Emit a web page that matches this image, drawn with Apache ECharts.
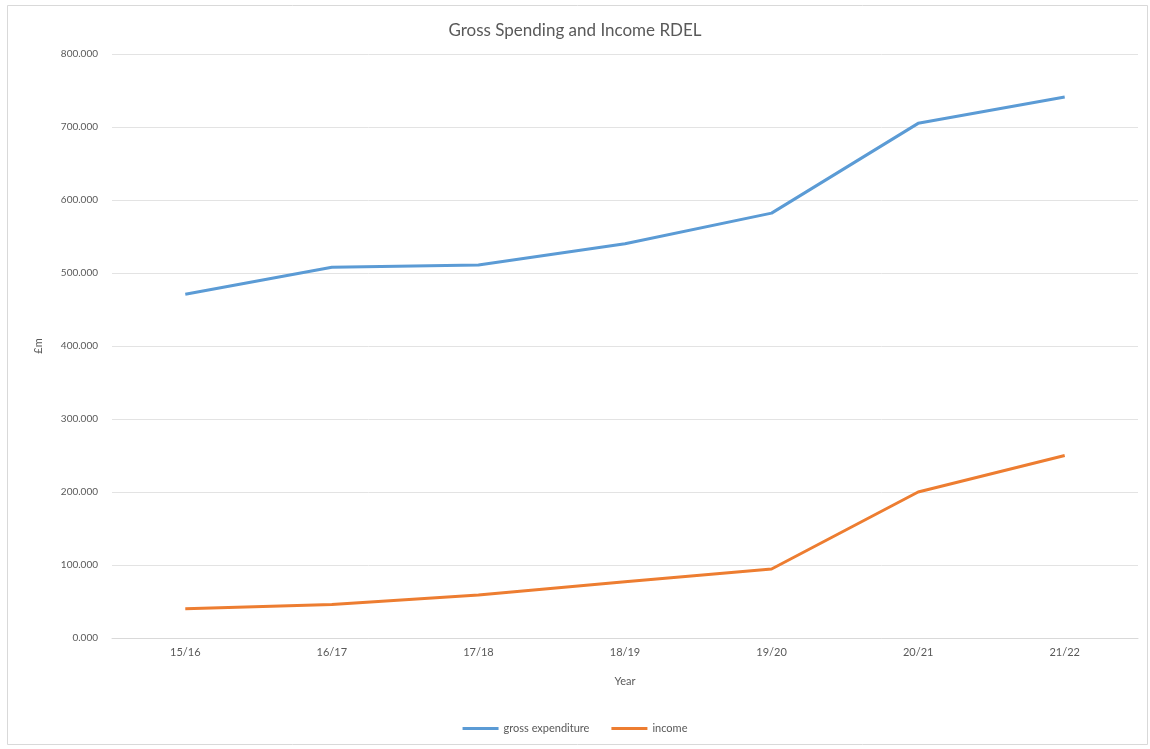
<!DOCTYPE html>
<html>
<head>
<meta charset="utf-8">
<script src="https://cdn.jsdelivr.net/npm/echarts@6/dist/echarts.min.js"></script>
<style>
  html, body { margin: 0; padding: 0; background: #ffffff; }
  #chart { width: 1150px; height: 749px; }
</style>
</head>
<body>
<div id="chart"></div>
<script>
// Financial years on the category axis
const years = ['15/16', '16/17', '17/18', '18/19', '19/20', '20/21', '21/22'];
// £m per year
const grossExpenditure = [471, 508, 511, 540, 582, 705, 741];
const income = [40, 46, 59, 77, 94.5, 200, 250];

const textGrey = '#595959';
const fontFam = 'Lato, "Open Sans", sans-serif';

const chart = echarts.init(document.getElementById('chart'), null, { renderer: 'canvas' });

chart.setOption({
  backgroundColor: '#ffffff',
  animation: false,
  graphic: [{
    type: 'rect',
    shape: { x: 7.5, y: 5.5, width: 1140, height: 739 },
    style: { fill: 'none', stroke: '#d9d9d9', lineWidth: 1 },
    silent: true,
    z: -1
  }],
  title: {
    text: 'Gross Spending and Income RDEL',
    left: 'center',
    top: 17,
    textStyle: { color: textGrey, fontSize: 17, fontWeight: 'normal', fontFamily: fontFam }
  },
  legend: {
    bottom: 10,
    left: 'center',
    itemWidth: 36,
    itemHeight: 3,
    itemGap: 22,
    icon: 'rect',
    textStyle: { color: textGrey, fontSize: 11, fontFamily: fontFam },
    data: ['gross expenditure', 'income']
  },
  grid: { left: 112, right: 12, top: 54, bottom: 111, containLabel: false },
  xAxis: {
    type: 'category',
    data: years,
    boundaryGap: true,
    name: 'Year',
    nameLocation: 'middle',
    nameGap: 38,
    nameTextStyle: { color: textGrey, fontSize: 11, fontFamily: fontFam },
    axisLine: { show: true, lineStyle: { color: '#d9d9d9', width: 1 } },
    axisTick: { show: false },
    axisLabel: { color: textGrey, fontSize: 11, margin: 9, fontFamily: fontFam }
  },
  yAxis: {
    type: 'value',
    min: 0,
    max: 800,
    interval: 100,
    name: '£m',
    nameLocation: 'middle',
    nameGap: 68,
    nameRotate: 90,
    nameTextStyle: { color: textGrey, fontSize: 11, fontFamily: fontFam },
    axisLine: { show: false },
    axisTick: { show: false },
    splitLine: { lineStyle: { color: '#e3e3e3', width: 1 } },
    axisLabel: {
      color: textGrey, fontSize: 10, margin: 14, fontFamily: fontFam,
      formatter: v => v.toFixed(3)
    }
  },
  series: [
    {
      name: 'gross expenditure',
      type: 'line',
      data: grossExpenditure,
      symbol: 'none',
      lineStyle: { color: '#5b9bd5', width: 3 },
      itemStyle: { color: '#5b9bd5' }
    },
    {
      name: 'income',
      type: 'line',
      data: income,
      symbol: 'none',
      lineStyle: { color: '#ed7d31', width: 3 },
      itemStyle: { color: '#ed7d31' }
    }
  ]
});
</script>
</body>
</html>
